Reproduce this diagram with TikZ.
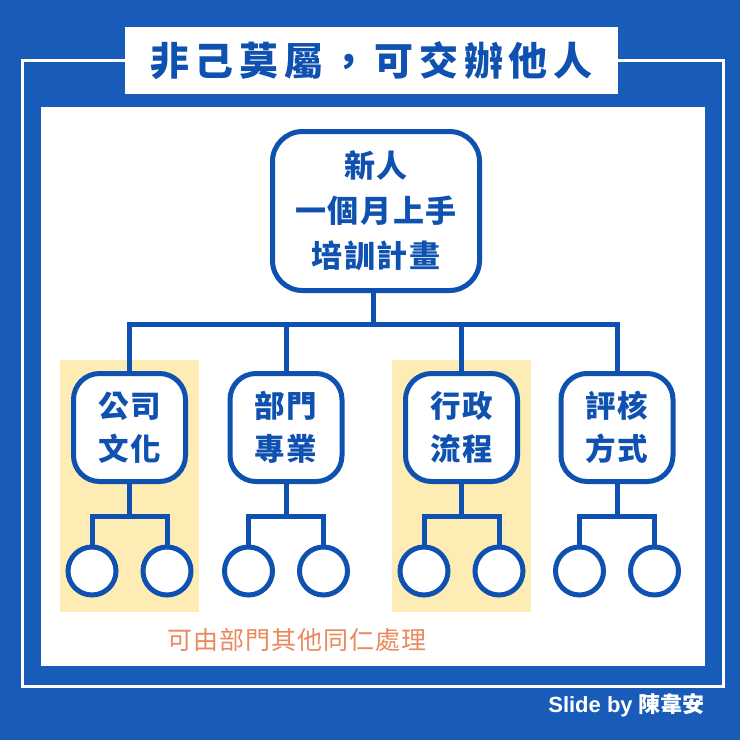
\documentclass[tikz,border=0pt]{standalone}
\usepackage{fontspec}
\newfontfamily\cjk{Noto Sans CJK TC}
\newfontfamily\titlefont{Noto Sans CJK TC}[LetterSpace=15]
\newfontfamily\boxfont{Noto Sans CJK TC}[LetterSpace=5]
\newfontfamily\notefont{Noto Sans CJK TC}[LetterSpace=4]
\setmainfont{Liberation Sans}
\definecolor{bgblue}{HTML}{185BB8}
\definecolor{lineblue}{HTML}{0F51B0}
\definecolor{hl}{HTML}{FDECB3}
\definecolor{note}{HTML}{E98A5E}
\tikzset{
  conn/.style={draw=lineblue, line width=5pt},
  rootbox/.style={draw=lineblue, line width=5pt, fill=white, rounded corners=30pt,
    minimum width=207pt, minimum height=159pt, align=center, text=lineblue,
    font=\boxfont\bfseries\fontsize{31}{45}\selectfont},
  childbox/.style={draw=lineblue, line width=5pt, fill=white, rounded corners=26pt,
    minimum width=112pt, minimum height=108pt, align=center, text=lineblue,
    font=\boxfont\bfseries\fontsize{30.5}{43}\selectfont},
  leaf/.style={draw=lineblue, line width=5pt, fill=white, circle, minimum size=48pt, inner sep=0pt},
}
\begin{document}
\begin{tikzpicture}[x=1pt,y=-1pt]
\useasboundingbox (0,0) rectangle (740,740);
\fill[bgblue] (0,0) rectangle (740,740);
\draw[white, line width=3pt] (22.5,60) rectangle (723,686);
\fill[white] (41,107) rectangle (704.5,666);
\node[fill=white, minimum width=493pt, minimum height=67pt, inner sep=0pt, text=lineblue,
  font=\titlefont\bfseries\fontsize{39}{42}\selectfont] (title) at (371.5,60.5) {非己莫屬，可交辦他人};
\fill[hl] (60,360) rectangle (199,612);
\fill[hl] (392,360) rectangle (531,612);
\coordinate (bar) at (0,324);
\coordinate (sub) at (0,516);
\coordinate (stemx) at (373,0);
\node[rootbox] (root) at (376,211) {新人\\一個月上手\\培訓計畫};
\node[childbox] (c1) at (129.5,427.5) {公司\\文化};
\node[childbox] (c2) at (286,427.5) {部門\\專業};
\node[childbox] (c3) at (461.5,427.5) {行政\\流程};
\node[childbox] (c4) at (617,427.5) {評核\\方式};
\draw[conn] (root.south -| stemx) -- (bar -| stemx);
\draw[conn] (c1.north) -- (c1.north |- bar) -| (c4.north);
\draw[conn] (c2.north) -- (c2.north |- bar);
\draw[conn] (c3.north) -- (c3.north |- bar);
\foreach \i/\x in {1/129.5,2/286,3/461.5,4/617}{
  \node[leaf] (l\i) at (\x-37.5,571) {};
  \node[leaf] (r\i) at (\x+37.5,571) {};
  \draw[conn] (c\i.south) -- (c\i.south |- sub);
  \draw[conn] (l\i.north) -- (l\i.north |- sub) -| (r\i.north);
}
\node[text=note, font=\notefont\fontsize{25}{27}\selectfont] (notetext) at (297,640) {可由部門其他同仁處理};
\node[anchor=base east, text=white, inner sep=0pt, font=\bfseries\fontsize{22}{24}\selectfont] (credit) at (705,712) {Slide by {\cjk\bfseries 陳韋安}};
\end{tikzpicture}
\end{document}
